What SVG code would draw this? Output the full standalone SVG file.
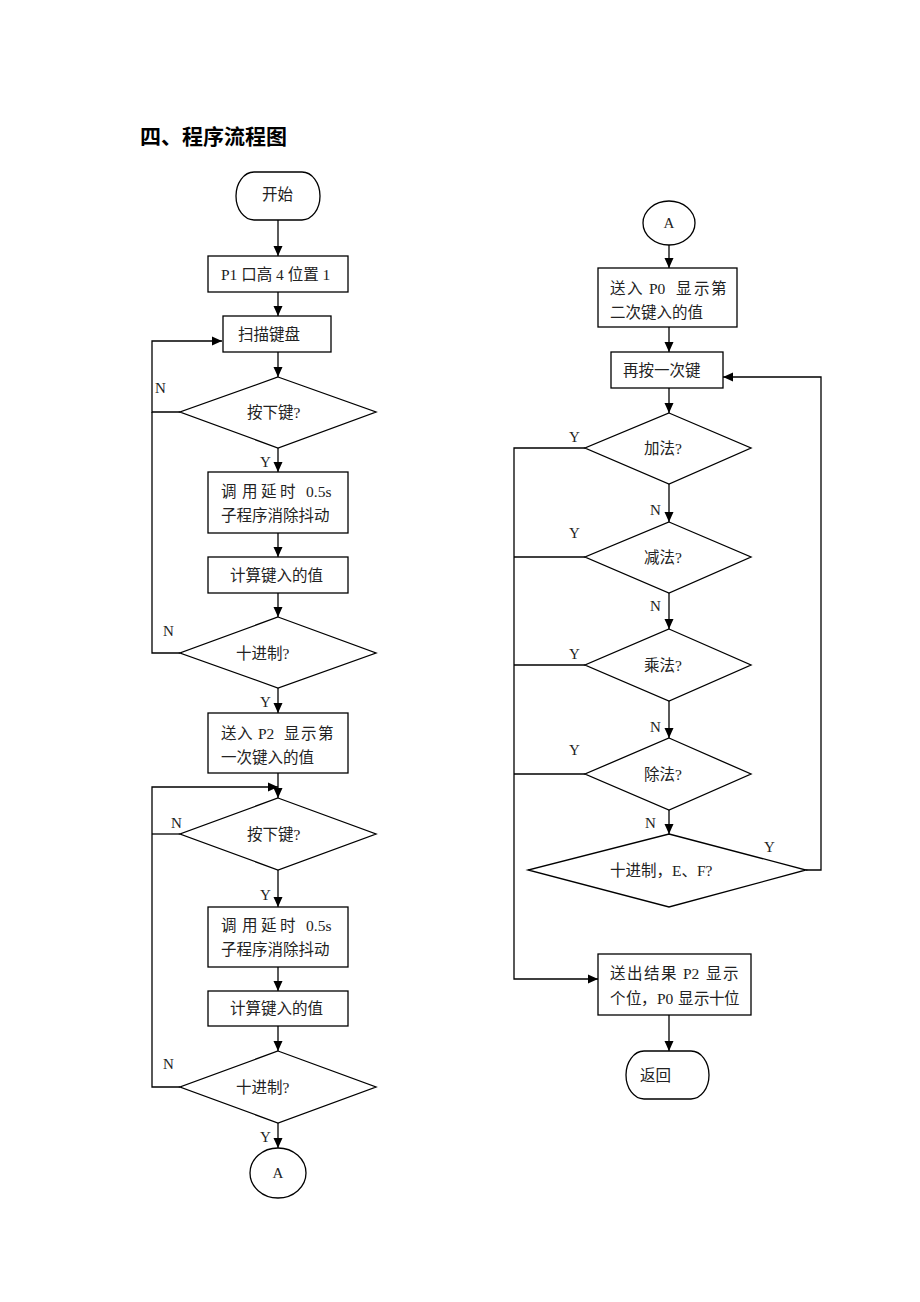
<svg xmlns="http://www.w3.org/2000/svg" width="920" height="1302" viewBox="0 0 920 1302">
<style>
.s{fill:#fff;stroke:#000;stroke-width:1.3}
.c{fill:none;stroke:#000;stroke-width:1.3}
.t{font-family:"Liberation Serif","Noto Sans CJK SC",serif;font-size:15.5px;fill:#222}
.l{font-family:"Liberation Serif","Noto Sans CJK SC",serif;font-size:15px;fill:#222}
.m{text-anchor:middle}
</style>
<defs>
<marker id="ar" markerUnits="userSpaceOnUse" markerWidth="10" markerHeight="10" refX="10" refY="5" orient="auto" viewBox="0 0 10 10">
<path d="M0,0.5 L10,5 L0,9.5 z" fill="#000"/>
</marker>
</defs>
<rect width="920" height="1302" fill="#fff"/>
<text x="140" y="144" font-family="'Noto Sans CJK SC',sans-serif" font-size="21" font-weight="bold" fill="#000">四、程序流程图</text>

<g id="connectors" class="c">
<line x1="278" y1="220" x2="278" y2="256" marker-end="url(#ar)"/>
<line x1="278" y1="292" x2="278" y2="316" marker-end="url(#ar)"/>
<line x1="278" y1="352" x2="278" y2="377" marker-end="url(#ar)"/>
<polyline points="180,412 152,412 152,341 222,341" marker-end="url(#ar)"/>
<line x1="278" y1="448" x2="278" y2="472" marker-end="url(#ar)"/>
<line x1="278" y1="533" x2="278" y2="557" marker-end="url(#ar)"/>
<line x1="278" y1="593" x2="278" y2="617" marker-end="url(#ar)"/>
<polyline points="180,653 152,653 152,412"/>
<line x1="278" y1="688" x2="278" y2="713" marker-end="url(#ar)"/>
<line x1="278" y1="773" x2="278" y2="798" marker-end="url(#ar)"/>
<polyline points="180,1087 152,1087 152,787 278,787" marker-end="url(#ar)"/>
<line x1="180" y1="834" x2="152" y2="834"/>
<line x1="278" y1="870" x2="278" y2="907" marker-end="url(#ar)"/>
<line x1="278" y1="967" x2="278" y2="991" marker-end="url(#ar)"/>
<line x1="278" y1="1026" x2="278" y2="1051" marker-end="url(#ar)"/>
<line x1="278" y1="1123" x2="278" y2="1148" marker-end="url(#ar)"/>

<line x1="669" y1="245" x2="669" y2="268" marker-end="url(#ar)"/>
<line x1="669" y1="327" x2="669" y2="352" marker-end="url(#ar)"/>
<line x1="669" y1="388" x2="669" y2="413" marker-end="url(#ar)"/>
<line x1="669" y1="484" x2="669" y2="522" marker-end="url(#ar)"/>
<line x1="669" y1="593" x2="669" y2="629" marker-end="url(#ar)"/>
<line x1="669" y1="701" x2="669" y2="738" marker-end="url(#ar)"/>
<line x1="669" y1="810" x2="669" y2="834" marker-end="url(#ar)"/>
<polyline points="806,870 821,870 821,377 723,377" marker-end="url(#ar)"/>
<polyline points="585,448 514,448 514,979 598,979" marker-end="url(#ar)"/>
<line x1="585" y1="557" x2="514" y2="557"/>
<line x1="585" y1="665" x2="514" y2="665"/>
<line x1="585" y1="774" x2="514" y2="774"/>
<line x1="669" y1="1015" x2="669" y2="1051" marker-end="url(#ar)"/>
</g>

<g id="labels" class="l">
<text x="155" y="393">N</text>
<text x="260" y="467">Y</text>
<text x="163" y="636">N</text>
<text x="260" y="707">Y</text>
<text x="171" y="828">N</text>
<text x="260" y="900">Y</text>
<text x="163" y="1069">N</text>
<text x="260" y="1142">Y</text>
<text x="569" y="442">Y</text>
<text x="650" y="515">N</text>
<text x="569" y="538">Y</text>
<text x="650" y="611">N</text>
<text x="569" y="659">Y</text>
<text x="650" y="732">N</text>
<text x="569" y="755">Y</text>
<text x="645" y="828">N</text>
<text x="764" y="852">Y</text>
</g>

<g id="start">
<path class="s" d="M254,172 H302 A18,24 0 0 1 302,220 H254 A18,24 0 0 1 254,172 Z"/>
<text class="t" x="262" y="200">开始</text>
</g>
<g id="p1init">
<rect class="s" x="208" y="256" width="140" height="36"/>
<text class="t" x="221" y="280">P1 口高 4 位置 1</text>
</g>
<g id="scan">
<rect class="s" x="223" y="316" width="108" height="36"/>
<text class="t" x="238" y="340">扫描键盘</text>
</g>
<g id="key1">
<polygon class="s" points="278,377 376,412 278,448 180,412"/>
<text class="t" x="247" y="418">按下键?</text>
</g>
<g id="delay1">
<rect class="s" x="208" y="472" width="140" height="61"/>
<text class="t" y="497"><tspan x="221">调</tspan><tspan x="242">用</tspan><tspan x="261">延</tspan><tspan x="280">时</tspan><tspan x="306">0.5s</tspan></text>
<text class="t" x="221" y="521">子程序消除抖动</text>
</g>
<g id="calc1">
<rect class="s" x="208" y="557" width="140" height="36"/>
<text class="t" x="230" y="581">计算键入的值</text>
</g>
<g id="dec1">
<polygon class="s" points="278,617 376,653 278,688 180,653"/>
<text class="t" x="236" y="659">十进制?</text>
</g>
<g id="sendP2">
<rect class="s" x="208" y="713" width="140" height="60"/>
<text class="t" y="739"><tspan x="221">送</tspan><tspan x="237">入</tspan><tspan x="258">P2</tspan><tspan x="284">显</tspan><tspan x="301">示</tspan><tspan x="318">第</tspan></text>
<text class="t" x="221" y="763">一次键入的值</text>
</g>
<g id="key2">
<polygon class="s" points="278,798 376,834 278,870 180,834"/>
<text class="t" x="247" y="840">按下键?</text>
</g>
<g id="delay2">
<rect class="s" x="208" y="907" width="140" height="60"/>
<text class="t" y="931"><tspan x="221">调</tspan><tspan x="242">用</tspan><tspan x="261">延</tspan><tspan x="280">时</tspan><tspan x="306">0.5s</tspan></text>
<text class="t" x="221" y="955">子程序消除抖动</text>
</g>
<g id="calc2">
<rect class="s" x="208" y="991" width="140" height="35"/>
<text class="t" x="230" y="1014">计算键入的值</text>
</g>
<g id="dec2">
<polygon class="s" points="278,1051 376,1087 278,1123 180,1087"/>
<text class="t" x="236" y="1093">十进制?</text>
</g>
<g id="connA1">
<ellipse class="s" cx="278" cy="1173" rx="28" ry="25"/>
<text class="l m" x="278" y="1178" font-size="13">A</text>
</g>

<g id="connA2">
<ellipse class="s" cx="669" cy="223" rx="26" ry="22"/>
<text class="l m" x="669" y="228" font-size="13">A</text>
</g>
<g id="sendP0">
<rect class="s" x="598" y="268" width="139" height="59"/>
<text class="t" y="294"><tspan x="610">送</tspan><tspan x="627">入</tspan><tspan x="649">P0</tspan><tspan x="676">显</tspan><tspan x="694">示</tspan><tspan x="711">第</tspan></text>
<text class="t" x="610" y="318">二次键入的值</text>
</g>
<g id="again">
<rect class="s" x="611" y="352" width="112" height="36"/>
<text class="t" x="623" y="376">再按一次键</text>
</g>
<g id="add">
<polygon class="s" points="669,413 751,448 669,484 585,448"/>
<text class="t" x="644" y="454">加法?</text>
</g>
<g id="sub">
<polygon class="s" points="669,522 751,557 669,593 585,557"/>
<text class="t" x="644" y="563">减法?</text>
</g>
<g id="mul">
<polygon class="s" points="669,629 751,665 669,701 585,665"/>
<text class="t" x="644" y="671">乘法?</text>
</g>
<g id="div">
<polygon class="s" points="669,738 751,774 669,810 585,774"/>
<text class="t" x="644" y="780">除法?</text>
</g>
<g id="decEF">
<polygon class="s" points="669,834 806,870 669,907 528,870"/>
<text class="t" x="610" y="876">十进制，E、F?</text>
</g>
<g id="result">
<rect class="s" x="598" y="954" width="153" height="61"/>
<text class="t" y="979"><tspan x="610">送</tspan><tspan x="627">出</tspan><tspan x="644">结</tspan><tspan x="661">果</tspan><tspan x="683">P2</tspan><tspan x="706">显</tspan><tspan x="723">示</tspan></text>
<text class="t" y="1004"><tspan x="610">个</tspan><tspan x="626">位</tspan><tspan x="641">，</tspan><tspan x="657">P0</tspan><tspan x="678">显</tspan><tspan x="694">示</tspan><tspan x="709">十</tspan><tspan x="724">位</tspan></text>
</g>
<g id="return">
<path class="s" d="M644,1051 H691 A18,24 0 0 1 691,1099 H644 A18,24 0 0 1 644,1051 Z"/>
<text class="t" x="640" y="1081">返回</text>
</g>
</svg>
